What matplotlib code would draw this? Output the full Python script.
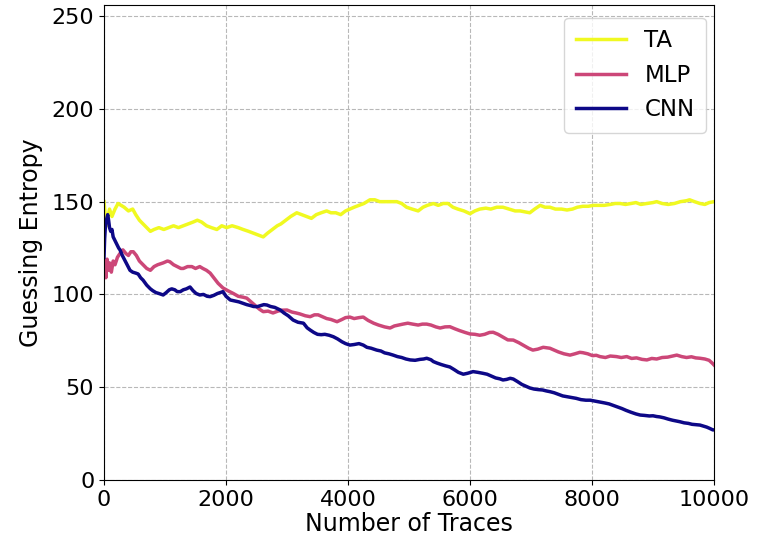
import numpy as np
import matplotlib.pyplot as plt

# Guessing entropy vs. number of attack traces
ta_x = [0, 20, 40, 60, 90, 130, 180, 230, 280, 330, 400, 470, 520, 580, 640, 700, 760, 820, 900, 980,
        1060, 1140, 1220, 1300, 1380, 1460, 1530, 1600, 1680, 1760, 1850, 1930, 2010, 2100, 2200, 2280,
        2370, 2450, 2530, 2610, 2680, 2760, 2840, 2900, 2980, 3060, 3160, 3240, 3320, 3400, 3480, 3560,
        3650, 3720, 3800, 3880, 3960, 4030, 4100, 4180, 4260, 4360, 4440, 4520, 4600, 4700, 4800, 4880,
        4960, 5050, 5150, 5230, 5300, 5400, 5480, 5560, 5640, 5720, 5800, 5900, 6000, 6080, 6160, 6260,
        6340, 6440, 6540, 6640, 6740, 6820, 6900, 6980, 7060, 7150, 7230, 7310, 7400, 7500, 7590, 7680,
        7760, 7850, 7940, 8020, 8100, 8200, 8300, 8380, 8460, 8550, 8640, 8720, 8800, 8900, 9000, 9060,
        9150, 9250, 9350, 9450, 9550, 9600, 9680, 9770, 9850, 9920, 10000]
ta_y = [150, 143, 137, 141, 146, 142, 146, 149, 148, 147, 145, 146, 143, 140, 138, 136, 134, 135, 136, 135,
        136, 137, 136, 137, 138, 139, 140, 139, 137, 136, 135, 137, 136, 137, 136, 135,
        134, 133, 132, 131, 133, 135, 137, 138, 140, 142, 144, 143, 142, 141, 143, 144,
        145, 144, 144, 143, 145, 146, 147, 148, 149, 151, 151, 150, 150, 150, 150, 149,
        147, 146, 145, 147, 148, 149, 148, 149, 149, 147, 146, 145, 143.5, 145, 146, 146.5,
        146, 147, 147, 146, 145, 145, 144.5, 144, 146, 148, 147, 147, 146, 146, 145.5, 146,
        147, 147.5, 147.5, 148, 148, 148, 148.5, 149, 149, 148.5, 149, 149.5, 148.5, 149, 149.5, 150,
        149, 148.5, 149, 150, 150.5, 151, 150, 149, 148.5, 149.5, 150]

mlp_x = [0, 15, 30, 50, 70, 90, 120, 150, 180, 220, 260, 310, 360, 400, 440, 480, 530, 580, 640, 700,
         760, 820, 880, 970, 1040, 1080, 1140, 1200, 1260, 1300, 1370, 1440, 1500, 1570, 1620, 1680,
         1740, 1800, 1870, 1950, 2030, 2120, 2200, 2280, 2340, 2410, 2480, 2550, 2610, 2690, 2770, 2850,
         2920, 3000, 3080, 3150, 3210, 3300, 3380, 3450, 3510, 3580, 3650, 3720, 3820, 3900, 3960, 4030,
         4100, 4180, 4250, 4330, 4420, 4500, 4600, 4690, 4760, 4830, 4900, 4980, 5060, 5150, 5220, 5290,
         5360, 5440, 5510, 5590, 5670, 5750, 5830, 5920, 6000, 6080, 6160, 6240, 6320, 6380, 6460, 6540,
         6620, 6710, 6800, 6880, 6960, 7030, 7110, 7200, 7310, 7380, 7450, 7540, 7640, 7720, 7800, 7850,
         7930, 8010, 8070, 8130, 8220, 8300, 8400, 8480, 8570, 8650, 8730, 8820, 8900, 8980, 9060, 9150,
         9240, 9320, 9390, 9470, 9550, 9630, 9700, 9770, 9850, 9920, 9970, 10000]
mlp_y = [112, 118, 109, 119, 113, 117, 112, 118, 116, 120, 122, 124, 122, 121, 123, 123, 121, 118, 116, 114,
         113, 115, 116, 117, 118, 117.6, 116, 115, 114, 114, 115, 115, 114, 115, 114, 113,
         111.5, 109, 106, 103.5, 102, 100.5, 99, 98.5, 98, 96, 94, 92, 90.7, 91, 90, 91,
         91.5, 91.6, 90.5, 90, 89.5, 88.5, 88, 89, 89, 88, 87, 86.5, 85.3, 86.5, 87.5, 87.8,
         87, 87.5, 87.8, 86, 84.5, 83.5, 82.5, 81.9, 83, 83.5, 84, 84.5, 84, 83.5, 84, 84,
         83.5, 82.5, 81.9, 82.5, 82.6, 81.5, 80.5, 79.5, 78.7, 78.5, 78, 78.5, 79.5, 79.6, 78.5, 77,
         75.5, 75.4, 74, 72.5, 71, 70, 70.5, 71.5, 71, 70, 69, 68, 67.3, 68, 68.8, 68.6,
         68, 67, 67.2, 66.5, 66, 66.8, 66.5, 66, 66.5, 65.5, 65.8, 65, 64.7, 65.5, 65.2, 66,
         66.2, 66.8, 67.3, 66.5, 66, 66.4, 65.8, 65.6, 65.2, 64.5, 63, 62]

cnn_x = [0, 10, 25, 45, 60, 75, 90, 110, 130, 150, 180, 210, 240, 262, 300, 340, 380, 426, 470, 520,
         560, 600, 640, 700, 760, 800, 850, 900, 970, 1020, 1070, 1110, 1160, 1200, 1250, 1300, 1350,
         1410, 1460, 1510, 1570, 1630, 1690, 1740, 1800, 1860, 1950, 2000, 2070, 2140, 2210, 2280, 2340,
         2400, 2450, 2510, 2570, 2620, 2670, 2730, 2800, 2890, 2950, 3020, 3100, 3180, 3270, 3330, 3380,
         3440, 3500, 3560, 3620, 3690, 3760, 3830, 3900, 3960, 4030, 4100, 4180, 4250, 4310, 4380, 4470,
         4540, 4600, 4670, 4740, 4810, 4880, 4950, 5020, 5100, 5180, 5240, 5290, 5360, 5400, 5460, 5530,
         5600, 5670, 5740, 5810, 5890, 5960, 6050, 6130, 6210, 6280, 6350, 6420, 6490, 6540, 6600, 6660,
         6710, 6780, 6850, 6920, 6980, 7050, 7120, 7190, 7250, 7310, 7380, 7460, 7520, 7590, 7660, 7740,
         7820, 7900, 7970, 8050, 8130, 8210, 8280, 8340, 8410, 8490, 8560, 8640, 8720, 8790, 8860, 8940,
         9000, 9060, 9110, 9180, 9250, 9320, 9380, 9440, 9510, 9580, 9640, 9700, 9770, 9830, 9880, 9930,
         9980, 10000]
cnn_y = [120, 130, 138, 141, 143, 140, 136, 134, 135, 131, 129, 127, 125, 124, 121, 118.5, 116, 113, 112, 111.5,
         111, 109, 107.7, 105, 103, 102, 101, 100.5, 99.7, 101, 102.5, 103, 102.5, 101.5, 101.5, 102.5, 103,
         104, 102, 100.5, 99.7, 100, 99, 98.8, 99.5, 100.5, 101.5, 99, 97, 96.5, 96, 95.2, 94.5,
         94, 93.5, 93.4, 94, 94.5, 94.3, 93.5, 93, 91.6, 90, 88.5, 86.2, 85, 84.5, 82, 80.8,
         79.5, 78.5, 78.3, 78.5, 78, 77.2, 76, 74.5, 73.5, 72.7, 73, 73.5, 72.7, 71.5, 71, 70,
         69.5, 68.5, 68, 67.3, 66.5, 66, 65.2, 64.7, 64.5, 65, 65.2, 65.6, 64.8, 63.8, 63, 62.2,
         61.5, 60.9, 59.5, 58, 57, 57.5, 58.4, 58, 57.5, 57, 56, 55, 54.5, 53.9, 54.2, 54.8,
         54.4, 53, 51.5, 50.5, 49.6, 49, 48.7, 48.5, 48, 47.6, 47, 46, 45.3, 44.9, 44.5, 44,
         43.3, 43, 43, 42.5, 42, 41.5, 41, 40.3, 39.5, 38.5, 37.5, 36.5, 35.6, 35, 34.8, 34.5,
         34.6, 34.2, 34, 33.5, 32.8, 32.2, 31.8, 31.4, 30.8, 30.5, 30, 29.8, 29.6, 29, 28.5, 27.8,
         27, 27]

x_ticks = [0, 2000, 4000, 6000, 8000, 10000]
y_ticks = [0, 50, 100, 150, 200, 250]

fig = plt.figure(figsize=(7.66, 5.45), dpi=100)
ax = fig.add_axes([0.1358, 0.1193, 0.7963, 0.8716])

ax.plot(ta_x, ta_y, color='#f0f921', lw=2.5, label='TA')
ax.plot(mlp_x, mlp_y, color='#cc4778', lw=2.5, label='MLP')
ax.plot(cnn_x, cnn_y, color='#0d0887', lw=2.5, label='CNN')

ax.set_xlim(0, 10000)
ax.set_ylim(0, 256)
ax.set_xticks(x_ticks)
ax.set_yticks(y_ticks)
ax.tick_params(labelsize=16)
ax.set_xlabel("Number of Traces", fontsize=17, labelpad=2)
ax.set_ylabel("Guessing Entropy", fontsize=17, labelpad=6)
ax.grid(True, linestyle='--', color='#b8b8b8', linewidth=0.8)

ax.legend(loc='upper right', bbox_to_anchor=(0.987, 0.973), fontsize=16.5,
          handlelength=2.2, labelspacing=0.5, borderpad=0.5, handletextpad=0.8,
          borderaxespad=0)

plt.savefig("out.png", dpi=100)
